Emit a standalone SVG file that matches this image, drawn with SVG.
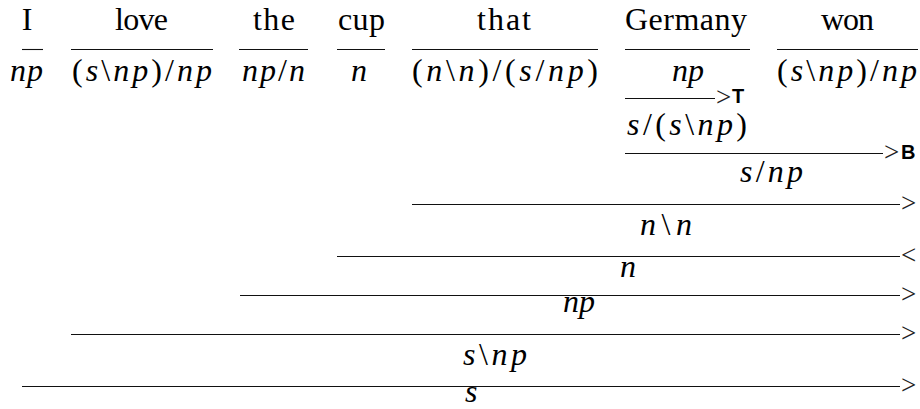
<svg xmlns="http://www.w3.org/2000/svg" width="920" height="409" viewBox="0 0 920 409">
<style>
  .w { font-family: "Liberation Serif", "Times New Roman", serif; font-size: 32px; fill: #000; }
  .c { font-family: "Liberation Serif", "Times New Roman", serif; font-size: 32px; fill: #000; }
  .i { font-style: italic; }
  .rule { stroke: #111; stroke-width: 1.1; fill: none; }
  .arr { font-family: "Liberation Serif", "Times New Roman", serif; font-size: 27px; fill: #222; }
  .lab { font-family: "Liberation Sans", Arial, sans-serif; font-weight: bold; font-size: 20px; fill: #000; }
</style>
<rect width="920" height="409" fill="#fff"/>

<g id="connectors">
  <line class="rule" x1="22" y1="49.5" x2="43" y2="49.5"/>
  <line class="rule" x1="71" y1="49.5" x2="213" y2="49.5"/>
  <line class="rule" x1="239" y1="49.5" x2="308" y2="49.5"/>
  <line class="rule" x1="337" y1="49.5" x2="385" y2="49.5"/>
  <line class="rule" x1="412" y1="49.5" x2="598" y2="49.5"/>
  <line class="rule" x1="625" y1="49.5" x2="750" y2="49.5"/>
  <line class="rule" x1="777" y1="49.5" x2="918" y2="49.5"/>
  <line class="rule" x1="625" y1="98.5" x2="715" y2="98.5"/>
  <line class="rule" x1="625" y1="153.5" x2="883" y2="153.5"/>
  <line class="rule" x1="412" y1="204.5" x2="900" y2="204.5"/>
  <line class="rule" x1="337" y1="256.5" x2="900" y2="256.5"/>
  <line class="rule" x1="240" y1="295.5" x2="900" y2="295.5"/>
  <line class="rule" x1="71" y1="334.5" x2="900" y2="334.5"/>
  <line class="rule" x1="22" y1="386.5" x2="900" y2="386.5"/>
</g>

<g id="w-I">
  <text class="w" x="27" y="30" text-anchor="middle">I</text>
  <text class="c" x="10" y="81" textLength="33" lengthAdjust="spacing"><tspan class="i">np</tspan></text>
</g>
<g id="w-love">
  <text class="w" x="115" y="30" textLength="53" lengthAdjust="spacing">love</text>
  <text class="c" x="72" y="81" textLength="140" lengthAdjust="spacing">(<tspan class="i">s</tspan>\<tspan class="i">np</tspan>)/<tspan class="i">np</tspan></text>
</g>
<g id="w-the">
  <text class="w" x="253" y="30" textLength="42" lengthAdjust="spacing">the</text>
  <text class="c" x="242" y="81" textLength="63" lengthAdjust="spacing"><tspan class="i">np</tspan>/<tspan class="i">n</tspan></text>
</g>
<g id="w-cup">
  <text class="w" x="338" y="30" textLength="47" lengthAdjust="spacing">cup</text>
  <text class="c" x="351" y="81" textLength="17" lengthAdjust="spacing"><tspan class="i">n</tspan></text>
</g>
<g id="w-that">
  <text class="w" x="477" y="30" textLength="54" lengthAdjust="spacing">that</text>
  <text class="c" x="412" y="81" textLength="186" lengthAdjust="spacing">(<tspan class="i">n</tspan>\<tspan class="i">n</tspan>)/(<tspan class="i">s</tspan>/<tspan class="i">np</tspan>)</text>
</g>
<g id="w-Germany">
  <text class="w" x="625" y="30" textLength="122" lengthAdjust="spacing">Germany</text>
  <text class="c" x="672" y="81" textLength="32" lengthAdjust="spacing"><tspan class="i">np</tspan></text>
</g>
<g id="w-won">
  <text class="w" x="821" y="30" textLength="53" lengthAdjust="spacing">won</text>
  <text class="c" x="777" y="81" textLength="140" lengthAdjust="spacing">(<tspan class="i">s</tspan>\<tspan class="i">np</tspan>)/<tspan class="i">np</tspan></text>
</g>

<g id="step-T">
  <text class="arr" x="716" y="105.5">&gt;</text>
  <text class="lab" x="732" y="103">T</text>
  <text class="c" x="627" y="135" textLength="120" lengthAdjust="spacing"><tspan class="i">s</tspan>/(<tspan class="i">s</tspan>\<tspan class="i">np</tspan>)</text>
</g>
<g id="step-B">
  <text class="arr" x="884" y="160.5">&gt;</text>
  <text class="lab" x="901" y="159">B</text>
  <text class="c" x="740" y="182" textLength="63" lengthAdjust="spacing"><tspan class="i">s</tspan>/<tspan class="i">np</tspan></text>
</g>
<g id="step-nn">
  <text class="arr" x="901" y="211.5">&gt;</text>
  <text class="c" x="640" y="235" textLength="52" lengthAdjust="spacing"><tspan class="i">n</tspan>\<tspan class="i">n</tspan></text>
</g>
<g id="step-n">
  <text class="arr" x="901" y="263.5">&lt;</text>
  <text class="c" x="620" y="277" textLength="18" lengthAdjust="spacing"><tspan class="i">n</tspan></text>
</g>
<g id="step-np">
  <text class="arr" x="901" y="302.5">&gt;</text>
  <text class="c" x="563" y="312" textLength="32" lengthAdjust="spacing"><tspan class="i">np</tspan></text>
</g>
<g id="step-snp">
  <text class="arr" x="901" y="341.5">&gt;</text>
  <text class="c" x="463" y="365" textLength="64" lengthAdjust="spacing"><tspan class="i">s</tspan>\<tspan class="i">np</tspan></text>
</g>
<g id="step-s">
  <text class="arr" x="901" y="393.5">&gt;</text>
  <text class="c" x="465" y="402" textLength="12" lengthAdjust="spacing"><tspan class="i">s</tspan></text>
</g>
</svg>
